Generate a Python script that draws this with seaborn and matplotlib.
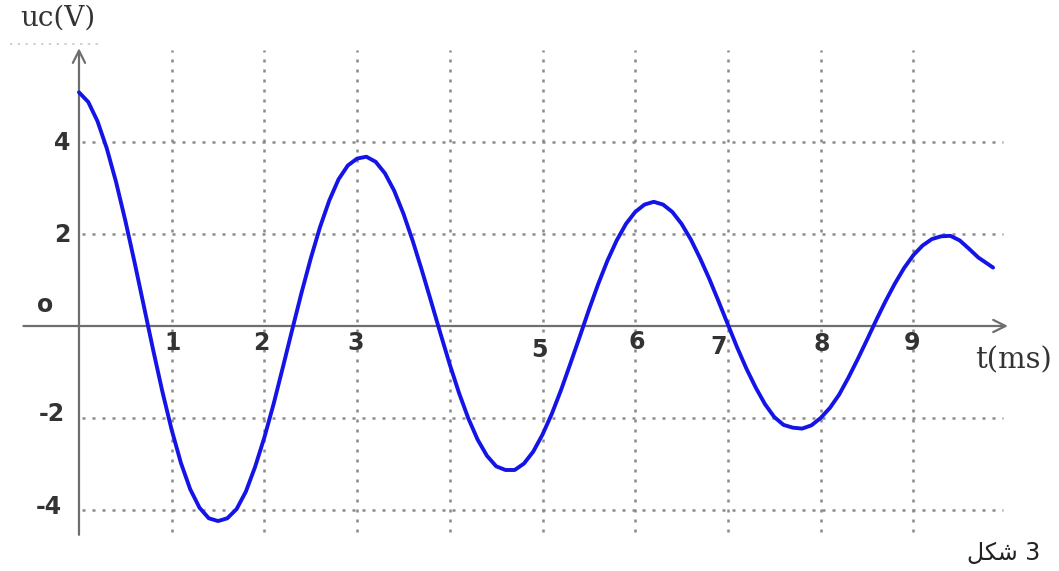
import numpy as np
import pandas as pd
import matplotlib
matplotlib.use("Agg")
import matplotlib.pyplot as plt
import seaborn as sns

# values (t in ms, uc in V)
t_ms = [0.0, 0.1, 0.2, 0.3, 0.4, 0.5, 0.6, 0.7, 0.8, 0.9,
        1.0, 1.1, 1.2, 1.3, 1.4, 1.5, 1.6, 1.7, 1.8, 1.9,
        2.0, 2.1, 2.2, 2.3, 2.4, 2.5, 2.6, 2.7, 2.8, 2.9,
        3.0, 3.1, 3.2, 3.3, 3.4, 3.5, 3.6, 3.7, 3.8, 3.9,
        4.0, 4.1, 4.2, 4.3, 4.4, 4.5, 4.6, 4.7, 4.8, 4.9,
        5.0, 5.1, 5.2, 5.3, 5.4, 5.5, 5.6, 5.7, 5.8, 5.9,
        6.0, 6.1, 6.2, 6.3, 6.4, 6.5, 6.6, 6.7, 6.8, 6.9,
        7.0, 7.1, 7.2, 7.3, 7.4, 7.5, 7.6, 7.7, 7.8, 7.9,
        8.0, 8.1, 8.2, 8.3, 8.4, 8.5, 8.6, 8.7, 8.8, 8.9,
        9.0, 9.1, 9.2, 9.3, 9.4, 9.5, 9.6, 9.7, 9.86]
uc_V = [5.08, 4.87, 4.45, 3.86, 3.13, 2.29, 1.38, 0.43, -0.52, -1.43,
        -2.26, -2.98, -3.55, -3.95, -4.18, -4.24, -4.18, -3.98, -3.60, -3.06,
        -2.42, -1.69, -0.89, -0.08, 0.72, 1.47, 2.15, 2.73, 3.19, 3.49,
        3.64, 3.68, 3.57, 3.32, 2.94, 2.44, 1.85, 1.20, 0.52, -0.17,
        -0.84, -1.46, -2.01, -2.47, -2.82, -3.05, -3.13, -3.13, -2.99, -2.73,
        -2.36, -1.91, -1.39, -0.82, -0.24, 0.35, 0.91, 1.42, 1.86, 2.22,
        2.48, 2.64, 2.70, 2.64, 2.48, 2.22, 1.88, 1.47, 1.02, 0.53,
        0.03, -0.47, -0.93, -1.34, -1.70, -1.98, -2.15, -2.21, -2.23, -2.16,
        -2.00, -1.78, -1.49, -1.12, -0.72, -0.30, 0.13, 0.54, 0.92, 1.26,
        1.54, 1.75, 1.89, 1.95, 1.96, 1.86, 1.68, 1.49, 1.27]

x_grid = [1, 2, 3, 4, 5, 6, 7, 8, 9]
y_grid = [4, 2, -2, -4]
x_labels = ["1", "2", "3", "5", "6", "7", "8", "9"]
x_label_pos = [(1.01, -0.37), (1.97, -0.37), (2.98, -0.37), (4.97, -0.52),
               (6.02, -0.35), (6.90, -0.46), (8.01, -0.39), (8.98, -0.37)]
y_labels = ["4", "2", "o", "-2", "-4"]
y_label_pos = [(-0.18, 3.98), (-0.18, 1.98), (-0.37, 0.46), (-0.29, -1.91), (-0.33, -3.93)]

sns.set_style("white")
df = pd.DataFrame({"t": t_ms, "uc": uc_V})

fig = plt.figure(figsize=(10.59, 5.71), dpi=100)
ax = fig.add_axes([0, 0, 1, 1])
ax.set_xlim(-0.852, 10.571)
ax.set_ylim(-5.326, 7.087)
ax.set_axis_off()

grid_kw = dict(color="#8a8a8a", lw=1.8, linestyle=(0, (1.2, 2.8)), zorder=1)
for gx in x_grid:
    ax.plot([gx, gx], [-4.48, 6.0], **grid_kw)
for gy in y_grid:
    ax.plot([0.03, 9.97], [gy, gy], **grid_kw)
# faint dotted line under the axis title
ax.plot([-0.74, 0.26], [6.13, 6.13], color="#cfcfcf", lw=1.4, linestyle=(0, (1.2, 2.8)), zorder=1)

# axes with arrow heads
arrow_kw = dict(arrowstyle="->", color="#6e6e6e", lw=1.6, mutation_scale=22)
ax.annotate("", xy=(10.05, 0), xytext=(-0.63, 0), arrowprops=arrow_kw, zorder=2)
ax.annotate("", xy=(0, 6.1), xytext=(0, -4.6), arrowprops=arrow_kw, zorder=2)

sns.lineplot(data=df, x="t", y="uc", ax=ax, color="#1414e6", lw=2.8, zorder=3)

tick_kw = dict(fontsize=17, fontweight="bold", color="#333333", family="DejaVu Sans",
               ha="center", va="center")
for lab, (px, py) in zip(x_labels, x_label_pos):
    ax.text(px, py, lab, **tick_kw)
for lab, (px, py) in zip(y_labels, y_label_pos):
    ax.text(px, py, lab, **tick_kw)

ax.text(-0.23, 6.70, "uc(V)", fontsize=20, family="DejaVu Serif", color="#333333",
        ha="center", va="center")
ax.text(10.08, -0.74, "t(ms)", fontsize=21, family="DejaVu Serif", color="#333333",
        ha="center", va="center")
# "شكل 3" in joined presentation forms (matplotlib does no Arabic shaping)
ax.text(9.97, -4.93, "\ufede\ufedc\ufeb7 3", fontsize=17, family="DejaVu Sans",
        color="#222222", ha="center", va="center")

fig.savefig("out.png", dpi=100)
